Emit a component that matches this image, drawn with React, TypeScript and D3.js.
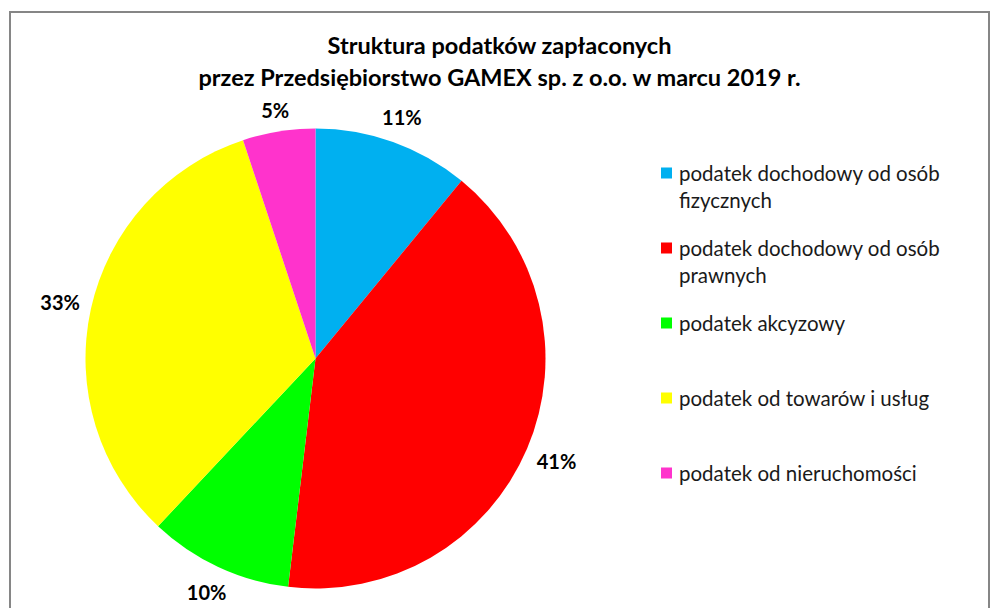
import React from 'react';
import * as d3 from 'd3';

const categories = [
  'podatek dochodowy od osób fizycznych',
  'podatek dochodowy od osób prawnych',
  'podatek akcyzowy',
  'podatek od towarów i usług',
  'podatek od nieruchomości',
];
const shares = [10.95, 40.95, 10.1, 32.9, 5.1];
const colors = ['#00B0F0', '#FF0000', '#00FF00', '#FFFF00', '#FF33CC'];
const titleLines = [
  'Struktura podatków zapłaconych',
  'przez Przedsiębiorstwo GAMEX sp. z o.o. w marcu 2019 r.',
];

const W = 991;
const H = 608;
const FONT = 'Lato, "Open Sans", sans-serif';

let ctx: CanvasRenderingContext2D | null = null;
function measure(text: string, font: string): number {
  if (!ctx) ctx = document.createElement('canvas').getContext('2d');
  if (!ctx) return text.length * 9;
  ctx.font = font;
  return ctx.measureText(text).width;
}

function wrap(text: string, font: string, maxW: number): string[] {
  const words = text.split(' ');
  const lines: string[] = [];
  let cur = '';
  for (const w of words) {
    const t = cur ? cur + ' ' + w : w;
    if (cur && measure(t, font) > maxW) {
      lines.push(cur);
      cur = w;
    } else cur = t;
  }
  if (cur) lines.push(cur);
  return lines;
}

export default function App() {
  const cx = 315.5;
  const cy = 358.5;
  const r = 230;

  const pie = d3.pie<number>().sort(null).value((d) => d);
  const arcs = pie(shares);
  const arcGen = d3.arc<d3.PieArcDatum<number>>().innerRadius(0).outerRadius(r);

  const labelFontSize = 20;
  const labelFont = `bold ${labelFontSize}px ${FONT}`;

  const legendFontSize = 20.5;
  const legendFont = `${legendFontSize}px ${FONT}`;
  const legendY = d3.scalePoint<string>().domain(categories).range([173, 473]);
  const legendX = 661;
  const lineH = 27;

  return (
    <svg width={W} height={H} style={{ position: 'absolute', left: 0, top: 0, background: '#fff' }}>
      <rect x={0} y={0} width={W} height={H} fill="#fff" />
      <rect x={10} y={12} width={979} height={H + 20} fill="#fff" stroke="#868686" strokeWidth={2} />

      {titleLines.map((t, i) => (
        <text
          key={i}
          x={499.5}
          y={45 + i * 32}
          textAnchor="middle"
          dominantBaseline="central"
          fontFamily={FONT}
          fontWeight="bold"
          fontSize={23.5}
          fill="#000"
        >
          {t}
        </text>
      ))}

      <g transform={`translate(${cx},${cy})`}>
        {arcs.map((a, i) => (
          <path key={i} d={arcGen(a) || ''} fill={colors[i]} />
        ))}
      </g>

      {arcs.map((a, i) => {
        const ang = (a.startAngle + a.endAngle) / 2;
        const txt = `${Math.round(a.data)}%`;
        const w = measure(txt, labelFont);
        const h = labelFontSize;
        const R = r + 10 + (w / 2) * Math.abs(Math.sin(ang)) + (h / 2) * Math.abs(Math.cos(ang));
        return (
          <text
            key={i}
            x={cx + R * Math.sin(ang)}
            y={cy - R * Math.cos(ang)}
            textAnchor="middle"
            dominantBaseline="central"
            fontFamily={FONT}
            fontWeight="bold"
            fontSize={labelFontSize}
            fill="#000"
          >
            {txt}
          </text>
        );
      })}

      {categories.map((c, i) => {
        const y0 = legendY(c) as number;
        const lines = wrap(c, legendFont, 268);
        return (
          <g key={i}>
            <rect x={legendX} y={y0 - 5.5} width={11} height={11} fill={colors[i]} />
            {lines.map((ln, j) => (
              <text
                key={j}
                x={legendX + 18}
                y={y0 + j * lineH}
                dominantBaseline="central"
                fontFamily={FONT}
                fontSize={legendFontSize}
                fill="#1a1a1a"
              >
                {ln}
              </text>
            ))}
          </g>
        );
      })}
    </svg>
  );
}
